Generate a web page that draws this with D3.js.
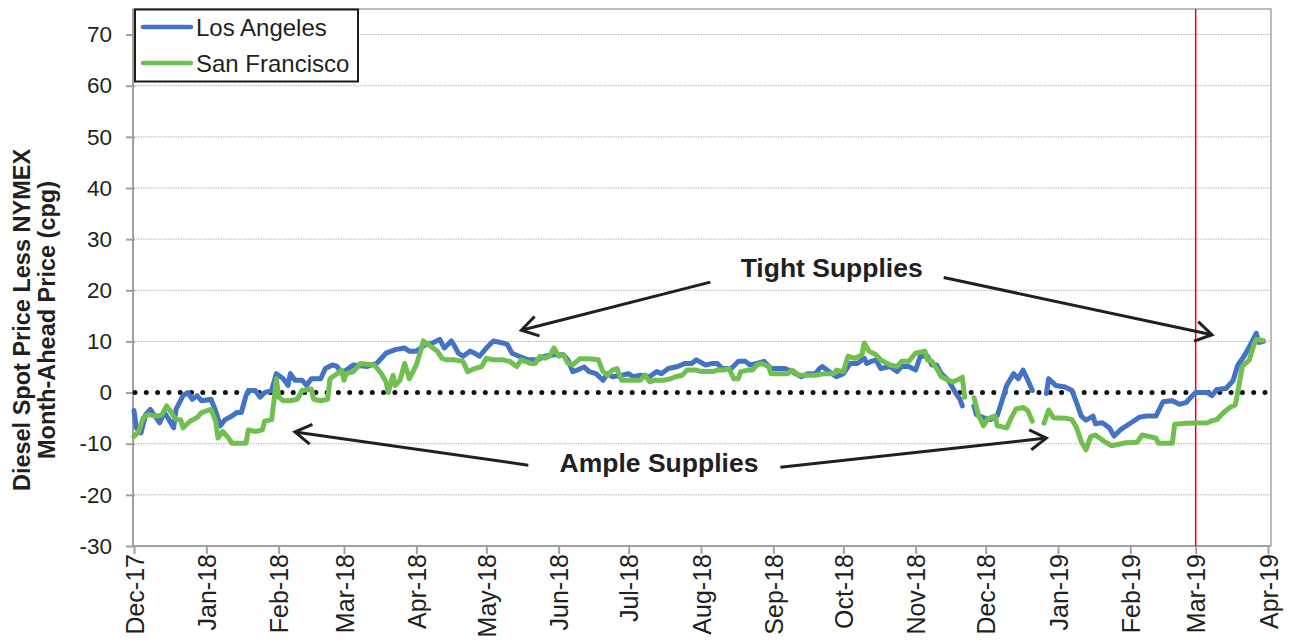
<!DOCTYPE html>
<html>
<head>
<meta charset="utf-8">
<script src="https://cdn.jsdelivr.net/npm/d3@7"></script>
<style>
  html, body { margin: 0; padding: 0; background: #fff; }
  svg { display: block; font-family: "Liberation Sans", Arial, sans-serif; }
</style>
</head>
<body>
<svg id="chart" width="1289" height="643"></svg>
<script>
// ---------------- DATA ----------------
const seriesNames = ["Los Angeles", "San Francisco"];
const seriesColors = ["#4472C4", "#70BF4F"];

const yTicks = [-30, -20, -10, 0, 10, 20, 30, 40, 50, 60, 70];
const xTickDates = ["2017-12-01","2018-01-01","2018-02-01","2018-03-01","2018-04-01","2018-05-01",
  "2018-06-01","2018-07-01","2018-08-01","2018-09-01","2018-10-01","2018-11-01","2018-12-01",
  "2019-01-01","2019-02-01","2019-03-01","2019-04-01"];
const markerDate = "2019-03-01";

const losAngeles = [
["2017-12-01",-3.5],["2017-12-02",-6.9],["2017-12-04",-7.9],["2017-12-06",-4.3],["2017-12-08",-3.3],
["2017-12-10",-4.6],["2017-12-12",-5.9],["2017-12-14",-3.9],["2017-12-16",-5.3],["2017-12-18",-6.9],
["2017-12-19",-3.3],["2017-12-22",-0.6],["2017-12-24",0],["2017-12-26",-1.3],["2017-12-28",-0.6],
["2017-12-30",-1.6],["2018-01-03",-1.3],["2018-01-05",-3.6],["2018-01-07",-6.5],["2018-01-09",-5.3],
["2018-01-12",-4.6],["2018-01-14",-3.9],["2018-01-16",-3.9],["2018-01-18",-0.6],["2018-01-19",0.4],
["2018-01-22",0.4],["2018-01-24",-0.9],["2018-01-26",0],["2018-01-29",0.4],["2018-01-31",3.7],
["2018-02-03",2.7],["2018-02-05",1.4],["2018-02-06",3.7],["2018-02-08",2.4],["2018-02-11",2.4],
["2018-02-13",1.4],["2018-02-15",2.7],["2018-02-19",2.7],["2018-02-21",4.7],["2018-02-24",5.4],
["2018-02-26",5.1],["2018-02-28",3.7],["2018-03-02",4.4],["2018-03-05",5.4],["2018-03-11",5.1],
["2018-03-15",5.7],["2018-03-19",7.7],["2018-03-23",8.4],["2018-03-27",8.7],["2018-03-29",8.1],
["2018-04-01",8.1],["2018-04-05",9.4],["2018-04-08",9.7],["2018-04-11",10.4],["2018-04-13",8.7],
["2018-04-16",10.1],["2018-04-17",9.4],["2018-04-19",7.7],["2018-04-21",7.1],["2018-04-24",8.1],
["2018-04-26",7.7],["2018-04-28",7.1],["2018-05-01",8.7],["2018-05-04",10.1],["2018-05-08",9.7],
["2018-05-10",9.4],["2018-05-12",7.7],["2018-05-15",7.1],["2018-05-19",6.4],["2018-05-23",6.4],
["2018-05-26",7.1],["2018-05-30",7.4],["2018-06-03",7.4],["2018-06-05",6.4],["2018-06-07",4.1],
["2018-06-09",4.4],["2018-06-12",5.0],["2018-06-14",4.1],["2018-06-17",3.7],["2018-06-20",2.4],
["2018-06-22",3.7],["2018-06-24",3.1],["2018-06-28",3.4],["2018-07-01",3.7],["2018-07-03",3.1],
["2018-07-06",3.4],["2018-07-10",3.1],["2018-07-13",4.1],["2018-07-15",3.7],["2018-07-18",4.7],
["2018-07-22",5.1],["2018-07-25",5.7],["2018-07-28",5.7],["2018-07-30",6.4],["2018-08-03",5.4],
["2018-08-06",5.7],["2018-08-08",5.7],["2018-08-10",4.7],["2018-08-14",4.7],["2018-08-17",6.1],
["2018-08-20",6.1],["2018-08-22",5.4],["2018-08-25",5.7],["2018-08-28",6.1],["2018-08-31",4.7],
["2018-09-03",4.7],["2018-09-06",4.7],["2018-09-09",4.1],["2018-09-13",3.1],["2018-09-16",3.7],
["2018-09-19",3.7],["2018-09-21",4.8],["2018-09-22",5.1],["2018-09-24",4.4],["2018-09-28",3.1],
["2018-10-01",3.7],["2018-10-04",5.7],["2018-10-07",5.7],["2018-10-10",6.7],["2018-10-11",5.7],
["2018-10-13",6.1],["2018-10-15",6.4],["2018-10-17",4.7],["2018-10-21",5.1],["2018-10-24",4.1],
["2018-10-26",5.1],["2018-10-29",5.1],["2018-11-01",4.4],["2018-11-03",7.1],["2018-11-06",7.1],
["2018-11-08",5.4],["2018-11-10",5.4],["2018-11-12",3.7],["2018-11-15",2.4],["2018-11-18",0],
["2018-11-20",-1.3],["2018-11-21",-2.6],["2018-11-23",null],["2018-11-26",-2.6],["2018-11-27",-4.3],
["2018-11-30",-4.9],["2018-12-03",-5.3],["2018-12-06",-4.5],["2018-12-08",-1.6],["2018-12-10",1.4],
["2018-12-13",3.7],["2018-12-15",2.7],["2018-12-17",4.4],["2018-12-19",2.5],["2018-12-21",0.4],
["2018-12-24",null],["2018-12-27",-0.2],["2018-12-28",2.7],["2018-12-31",1.4],["2019-01-04",1.1],
["2019-01-07",0.4],["2019-01-09",-2.0],["2019-01-11",-4.6],["2019-01-13",-5.4],["2019-01-16",-4.6],
["2019-01-17",-6.1],["2019-01-20",-5.9],["2019-01-23",-6.9],["2019-01-25",-8.5],["2019-01-28",-7.2],
["2019-02-01",-6.0],["2019-02-05",-4.8],["2019-02-08",-4.6],["2019-02-12",-4.6],["2019-02-15",-1.8],
["2019-02-19",-1.6],["2019-02-22",-2.3],["2019-02-25",-1.9],["2019-02-28",-0.4],["2019-03-01",0],
["2019-03-06",0],["2019-03-08",-0.6],["2019-03-10",0.6],["2019-03-14",0.8],["2019-03-17",2.3],
["2019-03-19",5.3],["2019-03-22",7.3],["2019-03-25",9.8],["2019-03-27",11.6],["2019-03-28",9.8],
["2019-03-30",10.0]
];

const sanFrancisco = [
["2017-12-01",-8.6],["2017-12-03",-7.6],["2017-12-05",-4.9],["2017-12-07",-4.3],["2017-12-11",-4.6],
["2017-12-13",-4.3],["2017-12-15",-2.6],["2017-12-17",-3.9],["2017-12-19",-5.3],["2017-12-21",-5.3],
["2017-12-22",-6.9],["2017-12-25",-5.6],["2017-12-28",-4.9],["2017-12-30",-3.9],["2018-01-01",-3.6],
["2018-01-03",-3.3],["2018-01-05",-5.6],["2018-01-06",-8.9],["2018-01-08",-7.6],["2018-01-10",-8.6],
["2018-01-12",-9.9],["2018-01-15",-9.9],["2018-01-18",-9.9],["2018-01-19",-7.3],["2018-01-22",-7.6],
["2018-01-25",-7.3],["2018-01-26",-5.6],["2018-01-29",-5.3],["2018-01-30",-1.6],["2018-01-31",2.7],
["2018-02-01",-0.9],["2018-02-03",-1.6],["2018-02-06",-1.6],["2018-02-09",-1.3],["2018-02-11",0.4],
["2018-02-15",0.7],["2018-02-16",-1.3],["2018-02-19",-1.6],["2018-02-22",-1.3],["2018-02-23",2.7],
["2018-02-26",3.7],["2018-02-28",4.4],["2018-03-01",2.4],["2018-03-02",3.7],["2018-03-05",4.1],
["2018-03-07",5.1],["2018-03-08",5.7],["2018-03-14",5.4],["2018-03-17",3.7],["2018-03-19",2.1],
["2018-03-20",0],["2018-03-22",3.4],["2018-03-23",1.4],["2018-03-25",2.4],["2018-03-27",5.7],
["2018-03-29",2.7],["2018-04-01",5.4],["2018-04-03",8.4],["2018-04-04",10.1],["2018-04-07",9.1],
["2018-04-10",8.1],["2018-04-12",6.7],["2018-04-14",6.4],["2018-04-17",6.4],["2018-04-21",6.1],
["2018-04-23",4.1],["2018-04-26",4.7],["2018-04-29",5.1],["2018-05-01",6.7],["2018-05-04",6.4],
["2018-05-08",6.4],["2018-05-11",6.1],["2018-05-14",5.1],["2018-05-16",6.4],["2018-05-20",5.7],
["2018-05-22",5.7],["2018-05-24",7.1],["2018-05-26",6.7],["2018-05-28",7.1],["2018-05-30",8.7],
["2018-06-01",7.1],["2018-06-03",7.4],["2018-06-05",5.7],["2018-06-07",5.4],["2018-06-10",6.6],
["2018-06-14",6.6],["2018-06-18",6.4],["2018-06-20",4.1],["2018-06-22",3.4],["2018-06-24",4.4],
["2018-06-26",4.7],["2018-06-28",2.4],["2018-06-30",2.4],["2018-07-06",2.4],["2018-07-08",3.4],
["2018-07-10",2.1],["2018-07-12",2.4],["2018-07-16",2.4],["2018-07-19",2.7],["2018-07-21",3.1],
["2018-07-24",3.4],["2018-07-26",4.4],["2018-07-30",4.4],["2018-08-01",4.1],["2018-08-06",4.1],
["2018-08-08",4.4],["2018-08-11",4.4],["2018-08-13",4.7],["2018-08-15",2.7],["2018-08-17",2.7],
["2018-08-18",4.1],["2018-08-21",4.4],["2018-08-23",4.4],["2018-08-25",5.4],["2018-08-27",5.7],
["2018-08-30",5.1],["2018-08-31",3.7],["2018-09-04",3.7],["2018-09-07",3.7],["2018-09-09",4.4],
["2018-09-12",3.4],["2018-09-15",3.4],["2018-09-19",3.4],["2018-09-23",3.7],["2018-09-27",3.7],
["2018-09-28",4.4],["2018-10-01",4.1],["2018-10-03",7.1],["2018-10-06",6.7],["2018-10-09",7.4],
["2018-10-10",9.7],["2018-10-12",8.1],["2018-10-15",7.4],["2018-10-17",6.4],["2018-10-21",5.4],
["2018-10-24",5.1],["2018-10-26",6.1],["2018-10-29",6.1],["2018-11-01",7.7],["2018-11-05",8.1],
["2018-11-06",6.4],["2018-11-08",6.1],["2018-11-10",4.7],["2018-11-12",3.1],["2018-11-15",2.4],
["2018-11-17",2.1],["2018-11-20",2.7],["2018-11-21",3.0],["2018-11-22",-0.9],["2018-11-24",null],
["2018-11-26",-1.0],["2018-11-28",-4.5],["2018-11-30",-6.5],["2018-12-02",-5.1],["2018-12-05",-4.6],
["2018-12-06",-6.5],["2018-12-10",-6.9],["2018-12-12",-4.9],["2018-12-14",-3.2],["2018-12-17",-2.9],
["2018-12-19",-3.5],["2018-12-21",-5.6],["2018-12-24",null],["2018-12-26",-6.0],["2018-12-28",-3.4],
["2018-12-30",-4.9],["2019-01-04",-5.0],["2019-01-07",-5.3],["2019-01-09",-6.9],["2019-01-11",-9.6],
["2019-01-13",-11.2],["2019-01-15",-8.6],["2019-01-17",-8.3],["2019-01-21",-9.6],["2019-01-24",-10.4],
["2019-01-30",-9.8],["2019-02-04",-9.7],["2019-02-06",-8.3],["2019-02-08",-8.5],["2019-02-12",-8.9],
["2019-02-13",-9.9],["2019-02-19",-9.9],["2019-02-20",-6.2],["2019-02-25",-6.0],["2019-03-06",-5.9],
["2019-03-08",-5.5],["2019-03-10",-5.3],["2019-03-13",-3.9],["2019-03-16",-2.8],["2019-03-18",-2.4],
["2019-03-19",0],["2019-03-21",5.1],["2019-03-24",6.4],["2019-03-26",9.4],["2019-03-27",10.4],
["2019-03-30",10.2]
];

const annotations = [
  { text: "Tight Supplies", x: "2018-09-26", y: 22.6 },
  { text: "Ample Supplies", x: "2018-07-14", y: -15.5 }
];
// arrows: [fromDate, fromVal, toDate, toVal]
const arrows = [
  ["2018-08-05", 21.6, "2018-05-16", 12.2],
  ["2018-11-13", 22.5, "2019-03-08", 11.3],
  ["2018-05-19", -14.2, "2018-02-08", -7.7],
  ["2018-09-04", -14.6, "2018-12-27", -8.9]
];

// ---------------- CHART ----------------
(function () {
const parse = d3.timeParse("%Y-%m-%d");
const svg = d3.select("#chart");
const mLeft = 134, mRight = 1268, mTop = 9, mBottom = 546, plotRight = 1271;
const font = "Liberation Sans, Arial, sans-serif";
const ink = "#231f20";

const x = d3.scaleTime().domain([parse("2017-12-01"), parse("2019-04-01")]).range([mLeft, mRight]);
const y = d3.scaleLinear().domain([-30, 75]).range([mBottom, mTop]);

// gridlines
svg.append("g").selectAll("line").data(yTicks.filter(v => v !== -30 && v !== 0)).join("line")
  .attr("x1", mLeft - 1).attr("x2", plotRight).attr("y1", d => y(d)).attr("y2", d => y(d))
  .attr("stroke", "#b4b4b4").attr("stroke-width", 1).attr("stroke-dasharray", "1.5 1");

// plot frame (top, right)
svg.append("path")
  .attr("d", `M${mLeft - 1},${mTop}H${plotRight}V${mBottom}`)
  .attr("fill", "none").attr("stroke", "#a6a6a6").attr("stroke-width", 1.5);

// y axis
const yAxis = d3.axisLeft(y).tickValues(yTicks).tickSize(8).tickPadding(13).tickFormat(d => String(d));
const gy = svg.append("g").attr("transform", `translate(${mLeft - 1},0)`).call(yAxis);
gy.select(".domain").attr("stroke", "#a0a0a0").attr("stroke-width", 2).attr("d", `M0,${mTop}V${mBottom}`);
gy.selectAll(".tick line").attr("stroke", "#a0a0a0").attr("stroke-width", 2).attr("x2", -7).attr("x1", 2);
gy.selectAll(".tick text").attr("font-size", 22.5).attr("fill", ink).attr("font-family", font);

// x axis
const xAxis = d3.axisBottom(x).tickValues(xTickDates.map(parse)).tickSize(8).tickFormat(d3.timeFormat("%b-%y"));
const gx = svg.append("g").attr("transform", `translate(0,${mBottom})`).call(xAxis);
gx.select(".domain").attr("stroke", "#a0a0a0").attr("stroke-width", 2).attr("d", `M${mLeft - 1},0H${plotRight}`);
gx.selectAll(".tick line").attr("stroke", "#a0a0a0").attr("stroke-width", 2);
gx.selectAll(".tick text")
  .attr("font-size", 25).attr("fill", ink).attr("font-family", font)
  .attr("text-anchor", "end").attr("transform", "rotate(-90)")
  .attr("x", -8).attr("y", 0).attr("dy", "0.36em");

// red marker line
svg.append("line")
  .attr("x1", x(parse(markerDate))).attr("x2", x(parse(markerDate)))
  .attr("y1", mTop).attr("y2", mBottom)
  .attr("stroke", "#ff0000").attr("stroke-width", 1.5);

// zero dotted line
svg.append("line")
  .attr("x1", mLeft + 1).attr("x2", plotRight - 2).attr("y1", y(0)).attr("y2", y(0))
  .attr("stroke", "#111").attr("stroke-width", 5).attr("stroke-linecap", "round")
  .attr("stroke-dasharray", "0 11.3");

// series lines
const line = d3.line()
  .defined(d => d[1] !== null)
  .x(d => x(parse(d[0])))
  .y(d => y(d[1]));

[losAngeles, sanFrancisco].forEach((data, i) => {
  svg.append("path").datum(data)
    .attr("d", line)
    .attr("fill", "none")
    .attr("stroke", seriesColors[i])
    .attr("stroke-width", 5)
    .attr("stroke-linejoin", "round")
    .attr("stroke-linecap", "round");
});

// annotations
svg.append("g").selectAll("text").data(annotations).join("text")
  .attr("x", d => x(parse(d.x))).attr("y", d => y(d.y))
  .attr("text-anchor", "middle")
  .attr("font-size", 26.5).attr("font-weight", "bold").attr("fill", ink)
  .attr("font-family", font)
  .text(d => d.text);

const arrowG = svg.append("g").attr("stroke", ink).attr("stroke-width", 3).attr("fill", "none")
  .attr("stroke-linecap", "butt");
arrows.forEach(a => {
  const x1 = x(parse(a[0])), y1 = y(a[1]), x2 = x(parse(a[2])), y2 = y(a[3]);
  arrowG.append("line").attr("x1", x1).attr("y1", y1).attr("x2", x2).attr("y2", y2);
  const ang = Math.atan2(y1 - y2, x1 - x2), L = 19, spread = 0.55;
  const p1 = [x2 + L * Math.cos(ang + spread), y2 + L * Math.sin(ang + spread)];
  const p2 = [x2 + L * Math.cos(ang - spread), y2 + L * Math.sin(ang - spread)];
  arrowG.append("path").attr("d", `M${p1[0]},${p1[1]}L${x2},${y2}L${p2[0]},${p2[1]}`)
    .attr("stroke-linejoin", "miter");
});

// y-axis title
const title = svg.append("text")
  .attr("transform", "translate(0,320) rotate(-90)")
  .attr("text-anchor", "middle")
  .attr("font-size", 23.5).attr("font-weight", "bold").attr("fill", ink)
  .attr("font-family", font);
title.append("tspan").attr("x", 0).attr("y", 30).text("Diesel Spot Price Less NYMEX");
title.append("tspan").attr("x", 0).attr("y", 55).text("Month-Ahead Price (cpg)");

// legend
const lg = svg.append("g");
lg.append("rect").attr("x", 135).attr("y", 9.5).attr("width", 223).attr("height", 72)
  .attr("fill", "#fff").attr("stroke", "#1a1a1a").attr("stroke-width", 2);
seriesNames.forEach((name, i) => {
  const yy = 27 + i * 36;
  lg.append("line").attr("x1", 143).attr("x2", 191).attr("y1", yy).attr("y2", yy)
    .attr("stroke", seriesColors[i]).attr("stroke-width", 4.5).attr("stroke-linecap", "round");
  lg.append("text").attr("x", 196).attr("y", yy + 8.5)
    .attr("font-size", 24).attr("fill", ink)
    .attr("font-family", font)
    .text(name);
});
})();
</script>
</body>
</html>
